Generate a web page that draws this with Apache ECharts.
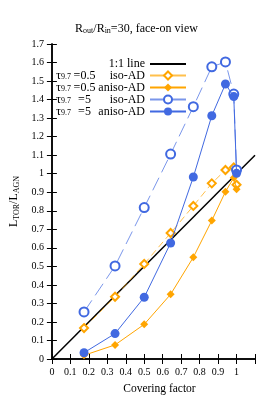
<!DOCTYPE html>
<html><head><meta charset="utf-8">
<script src="https://cdn.jsdelivr.net/npm/echarts@6/dist/echarts.min.js"></script>
<style>html,body{margin:0;padding:0;background:#fff}#c{width:273px;height:407px}</style>
</head><body><div id="c"></div>
<script>
const coveringFactor = [0.174, 0.342, 0.5, 0.643, 0.766, 0.866, 0.940, 0.985, 1.0];
const isoTau05   = [0.167, 0.336, 0.513, 0.680, 0.826, 0.948, 1.020, 1.034, 0.940];
const anisoTau05 = [0.020, 0.076, 0.187, 0.349, 0.549, 0.747, 0.903, 0.978, 0.916];
const isoTau5    = [0.254, 0.502, 0.817, 1.106, 1.362, 1.577, 1.603, 1.430, 1.020];
const anisoTau5  = [0.034, 0.137, 0.333, 0.626, 0.982, 1.313, 1.484, 1.416, 1.002];
const oneToOne   = [[0, 0], [1.1, 1.1]];
const xTicks = [0, 0.1, 0.2, 0.3, 0.4, 0.5, 0.6, 0.7, 0.8, 0.9, 1];

const FONT = 'Liberation Serif';
const ORANGE = '#FFA500', BLUE = '#4169E1';
const ORANGE_L = 'rgba(255,165,0,0.7)', BLUE_L = 'rgba(65,105,225,0.7)';
const pts = ys => coveringFactor.map((x, i) => [x, ys[i]]);

const chart = echarts.init(document.getElementById('c'), null, {renderer: 'canvas'});
const rich = {
  t: {fontFamily: FONT, fontSize: 12.5, color: '#000', lineHeight: 11},
  s: {fontFamily: FONT, fontSize: 8, color: '#000', verticalAlign: 'bottom', lineHeight: 3},
  e: {fontFamily: FONT, fontSize: 12, color: '#000', width: 27, align: 'left', lineHeight: 11},
  r: {fontFamily: FONT, fontSize: 12, color: '#000', width: 47, align: 'right', lineHeight: 11},
  full: {fontFamily: FONT, fontSize: 12, color: '#000', width: 90, align: 'right', lineHeight: 11}
};
const names = {
  '1:1 line': '{full|1:1 line}',
  'a': '{t|τ}{s|9.7}{e|=0.5}{r|iso-AD}',
  'b': '{t|τ}{s|9.7}{e|=0.5}{r|aniso-AD}',
  'c': '{t|τ}{s|9.7}{e|=5}{r|iso-AD}',
  'd': '{t|τ}{s|9.7}{e|=5}{r|aniso-AD}'
};
const axisCommon = {
  type: 'value', min: 0, interval: 0.1,
  axisLine: {show: true, lineStyle: {color: '#000', width: 1.5}},
  axisTick: {show: true, inside: true, length: 5, lineStyle: {color: '#000', width: 1}},
  splitLine: {show: false}
};
const subRich = {
  a: {fontFamily: FONT, fontSize: 12, color: '#000', lineHeight: 13},
  b: {fontFamily: FONT, fontSize: 8, color: '#000', verticalAlign: 'bottom', lineHeight: 4}
};
chart.setOption({
  animation: false,
  backgroundColor: '#fff',
  title: {
    text: '{a|R}{b|out}{a|/R}{b|in}{a|=30, face-on view}',
    left: 'center', top: 17,
    textStyle: {fontWeight: 'normal', rich: subRich}
  },
  grid: {left: 50, right: 18, top: 44, bottom: 48},
  legend: {
    orient: 'vertical', left: 50, top: 53, align: 'right',
    itemWidth: 36, itemHeight: 10, itemGap: -1,
    data: [
      {name: '1:1 line', itemStyle: {opacity: 0}},
      {name: 'a', lineStyle: {type: 'solid'}},
      {name: 'b'},
      {name: 'c', lineStyle: {type: 'solid'}},
      {name: 'd'}
    ],
    formatter: n => names[n],
    textStyle: {rich: rich},
    selectedMode: false
  },
  xAxis: [
    Object.assign({}, axisCommon, {position: 'bottom', max: 1.1,
      name: 'Covering factor', nameLocation: 'middle', nameGap: 24,
      nameTextStyle: {fontFamily: FONT, fontSize: 11.5, color: '#000', padding: [0, 0, 0, 12]},
      axisLabel: {fontFamily: FONT, fontSize: 10, color: '#000', margin: 8,
        formatter: v => (xTicks.some(t => Math.abs(t - v) < 1e-6) ? String(+v.toFixed(1)) : '')}}),
    Object.assign({}, axisCommon, {position: 'top', max: 1.1, axisLabel: {show: false}})
  ],
  yAxis: [
    Object.assign({}, axisCommon, {position: 'left', max: 1.7,
      name: '{a|L}{b|TOR}{a|/L}{b|AGN}', nameLocation: 'middle', nameGap: 30, nameRotate: 90,
      nameTextStyle: {rich: subRich},
      axisLabel: {fontFamily: FONT, fontSize: 10, color: '#000', margin: 8,
        formatter: v => String(+v.toFixed(1))}}),
    Object.assign({}, axisCommon, {position: 'right', max: 1.7, axisLabel: {show: false}})
  ],
  series: [
    {name: '1:1 line', type: 'line', data: oneToOne, symbol: 'none',
      lineStyle: {color: '#000', width: 1.5}, itemStyle: {color: '#000'}, z: 2},
    {name: 'a', type: 'line', data: pts(isoTau05), symbol: 'emptyDiamond', symbolSize: 8,
      lineStyle: {color: ORANGE_L, width: 1, type: [7, 4]},
      itemStyle: {color: ORANGE, borderColor: ORANGE, borderWidth: 1}, z: 3},
    {name: 'b', type: 'line', data: pts(anisoTau05), symbol: 'diamond', symbolSize: 8,
      lineStyle: {color: ORANGE, width: 1},
      itemStyle: {color: ORANGE}, z: 4},
    {name: 'c', type: 'line', data: pts(isoTau5), symbol: 'emptyCircle', symbolSize: 9,
      lineStyle: {color: BLUE_L, width: 1, type: [14, 6]},
      itemStyle: {color: BLUE, borderColor: BLUE, borderWidth: 1}, z: 5},
    {name: 'd', type: 'line', data: pts(anisoTau5), symbol: 'circle', symbolSize: 9,
      lineStyle: {color: BLUE, width: 1},
      itemStyle: {color: BLUE}, z: 6}
  ]
});
</script></body></html>
